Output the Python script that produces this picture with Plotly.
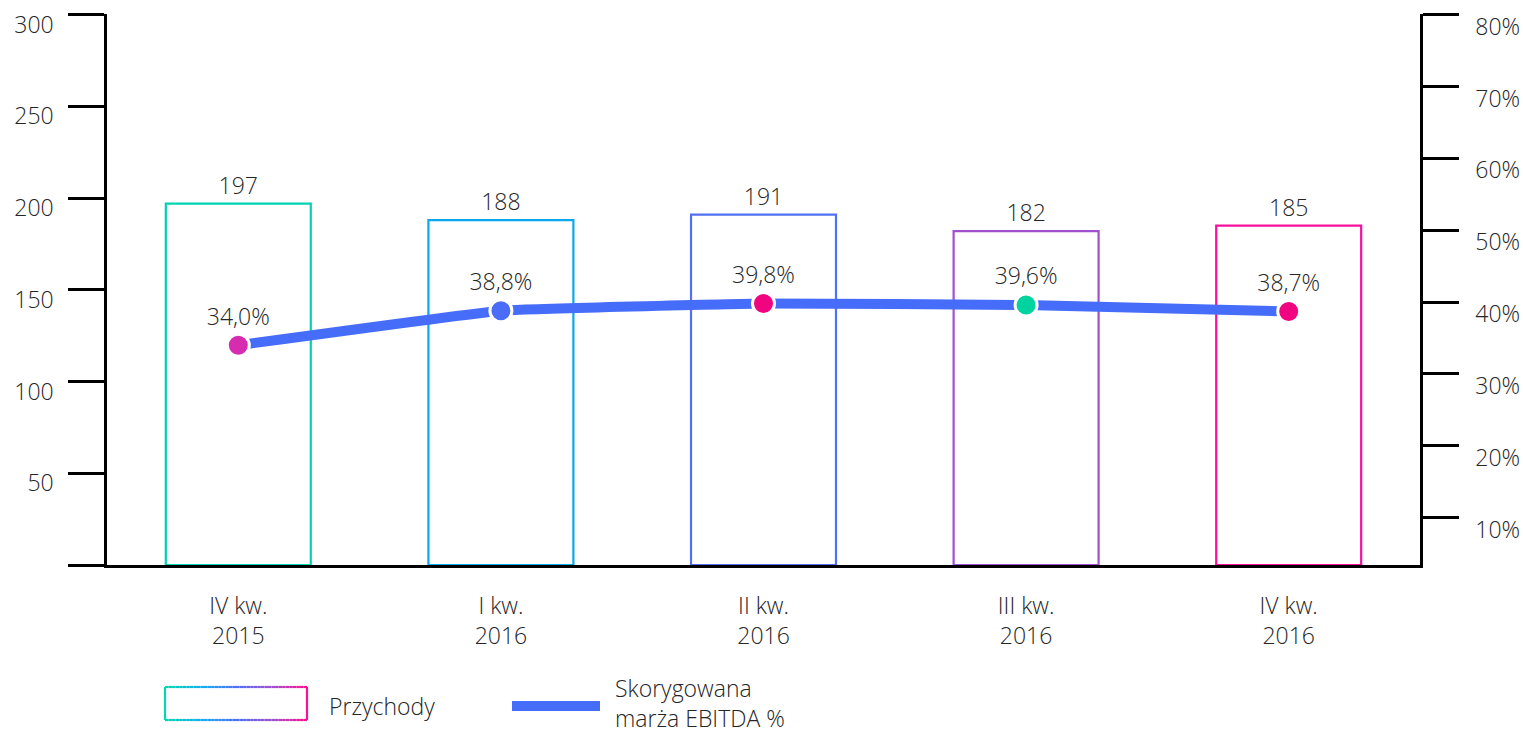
import plotly.graph_objects as go

# ---- data ----
categories = ["IV kw.<br>2015", "I kw.<br>2016", "II kw.<br>2016", "III kw.<br>2016", "IV kw.<br>2016"]
revenue = [197, 188, 191, 182, 185]
margin = [34.0, 38.8, 39.8, 39.6, 38.7]
left_ticks = [0, 50, 100, 150, 200, 250, 300]
left_tick_text = ["", "50", "100", "150", "200", "250", "300"]
right_ticks = [10, 20, 30, 40, 50, 60, 70, 80]
right_tick_text = [f"{v}%" for v in right_ticks]

bar_colors = ["#00D2B4", "#0CA8EE", "#5270F4", "#A050D0", "#F8109C"]
marker_colors = ["#D62DB0", "#4A6CF7", "#F0047F", "#00D2A0", "#F0047F"]
line_color = "#466CFA"
text_color = "#262626"
FONT = "Open Sans"
FW = 300
FS = 23

W, H = 1523, 734
L, R, T, B = 107, 1420, 14, 565

fig = go.Figure()

fig.add_trace(go.Bar(
    x=categories, y=revenue, width=0.552,
    marker=dict(color="rgba(255,255,255,0)", line=dict(color=bar_colors, width=2.2)),
    text=[str(v) for v in revenue], textposition="outside",
    textfont=dict(family=FONT, size=FS, color=text_color, weight=FW),
    cliponaxis=False, showlegend=False, yaxis="y",
))

fig.add_trace(go.Scatter(
    x=categories, y=margin, yaxis="y2",
    mode="lines+markers+text",
    line=dict(color=line_color, width=10, shape="spline", smoothing=0.25),
    marker=dict(size=22, color=marker_colors, line=dict(color="white", width=3)),
    text=[f"{v:.1f}".replace(".", ",") + "%" for v in margin],
    textposition="top center",
    textfont=dict(family=FONT, size=FS, color=text_color, weight=FW),
    cliponaxis=False, showlegend=False,
))

def px_x(x):
    return (x - L) / (R - L)

def px_y(y):
    return (B - y) / (B - T)

shapes = []
# gradient legend rectangle
grad = [(0x00, 0xD8, 0xB0), (0x10, 0xB0, 0xF0), (0x4C, 0x70, 0xF8), (0xA0, 0x50, 0xD0), (0xFF, 0x10, 0x90)]

def col_at(t):
    n = len(grad) - 1
    i = min(int(t * n), n - 1)
    f = t * n - i
    c = [int(grad[i][k] + (grad[i + 1][k] - grad[i][k]) * f) for k in range(3)]
    return "rgb(%d,%d,%d)" % tuple(c)

x0, x1, y0, y1 = 165, 307, 687, 720
nseg = 40
for i in range(nseg):
    a = x0 + (x1 - x0) * i / nseg
    b = x0 + (x1 - x0) * (i + 1) / nseg
    c = col_at((i + 0.5) / nseg)
    for yy in (y0, y1):
        shapes.append(dict(type="line", xref="paper", yref="paper",
                           x0=px_x(a), x1=px_x(b), y0=px_y(yy), y1=px_y(yy),
                           line=dict(color=c, width=2.2)))
shapes.append(dict(type="line", xref="paper", yref="paper", x0=px_x(x0), x1=px_x(x0),
                   y0=px_y(y0), y1=px_y(y1), line=dict(color=col_at(0), width=2.2)))
shapes.append(dict(type="line", xref="paper", yref="paper", x0=px_x(x1), x1=px_x(x1),
                   y0=px_y(y0), y1=px_y(y1), line=dict(color=col_at(1), width=2.2)))
# legend line
shapes.append(dict(type="line", xref="paper", yref="paper", x0=px_x(512), x1=px_x(600),
                   y0=px_y(706), y1=px_y(706), line=dict(color=line_color, width=10)))

annotations = [
    dict(text="Przychody", xref="paper", yref="paper", x=px_x(327), y=px_y(706),
         xanchor="left", yanchor="middle", showarrow=False,
         font=dict(family=FONT, size=FS, color=text_color, weight=FW)),
    dict(text="Skorygowana<br>marża EBITDA %", xref="paper", yref="paper", x=px_x(613), y=px_y(703),
         xanchor="left", yanchor="middle", align="left", showarrow=False,
         font=dict(family=FONT, size=FS, color=text_color, weight=FW)),
]

tickfont = dict(family=FONT, size=FS, color=text_color, weight=FW)

fig.update_layout(
    width=W, height=H,
    margin=dict(l=L, r=W - R, t=T, b=H - B, pad=0, autoexpand=False),
    plot_bgcolor="white", paper_bgcolor="white",
    font=dict(family=FONT, size=FS, color=text_color, weight=FW),
    bargap=0.448,
    xaxis=dict(showline=True, linecolor="black", linewidth=2.5, showgrid=False,
               ticks="", ticklabelstandoff=19, zeroline=False, tickfont=tickfont,
               automargin=False),
    yaxis=dict(range=[0, 300.3], tickvals=left_ticks, ticktext=left_tick_text,
               showline=True, linecolor="black", linewidth=2.5, showgrid=False, zeroline=False,
               ticks="outside", ticklen=36, tickwidth=2.5, tickcolor="black",
               ticklabelstandoff=10, ticklabelshift=10, ticklabeloverflow="allow",
               tickfont=tickfont, automargin=False),
    yaxis2=dict(range=[3.42, 80.08], overlaying="y", side="right", tickvals=right_ticks,
                ticktext=right_tick_text, showline=True, linecolor="black", linewidth=2.5,
                showgrid=False, zeroline=False,
                ticks="outside", ticklen=36, tickwidth=2.5, tickcolor="black",
                ticklabelstandoff=12, ticklabelshift=12, ticklabeloverflow="allow",
                tickfont=tickfont, automargin=False),
    shapes=shapes, annotations=annotations,
)

fig.write_html("out.html", config={"displayModeBar": False},
               post_script="document.body.style.margin='0';document.body.style.overflow='hidden';")
